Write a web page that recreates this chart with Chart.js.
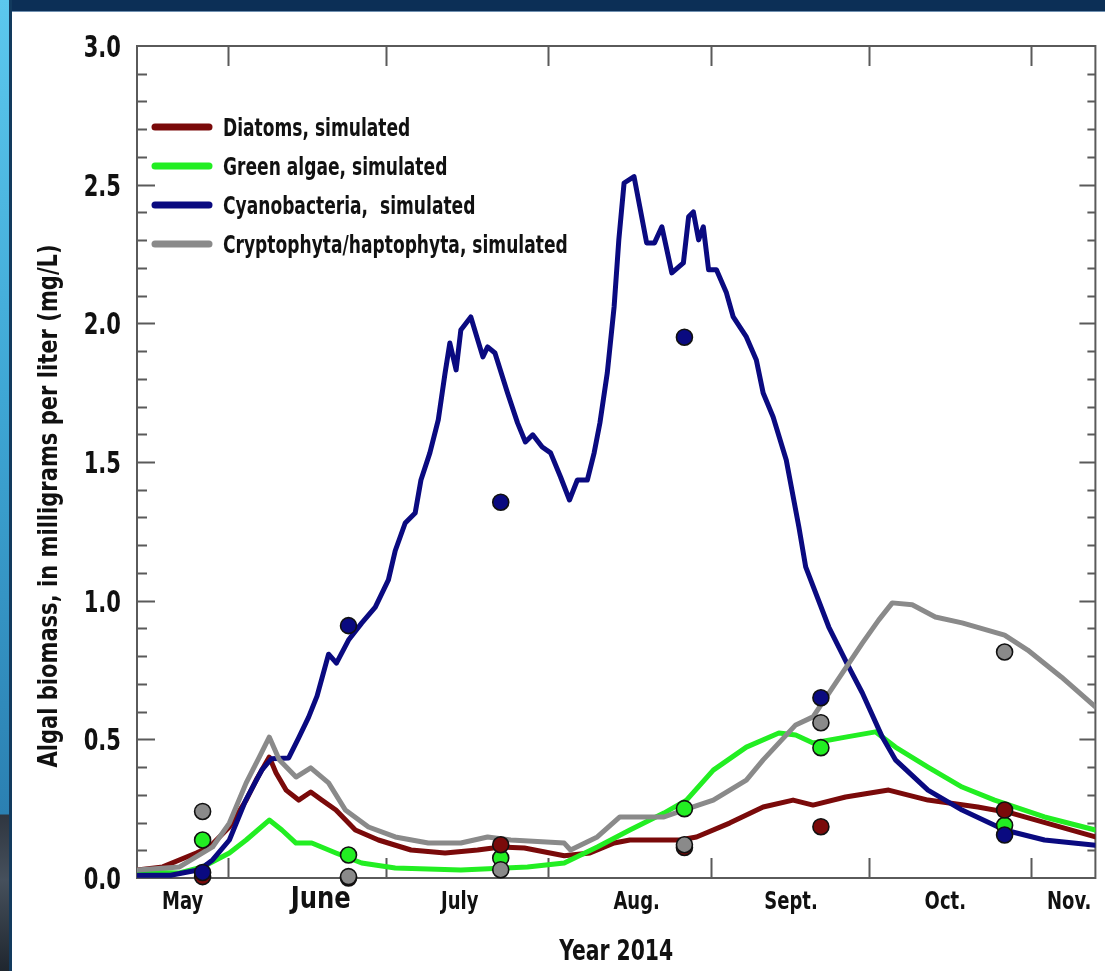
<!DOCTYPE html>
<html><head><meta charset="utf-8">
<script src="https://cdn.jsdelivr.net/npm/chart.js@4.4.1/dist/chart.umd.min.js"></script>
<style>
html,body{margin:0;padding:0;background:#fff;}
#wrap{position:relative;width:1105px;height:971px;overflow:hidden;background:#fff;}
#topbar{position:absolute;left:0;top:0;width:1105px;height:11px;background:#0c2f56;border-bottom:1px solid #7090b0;z-index:2}
#leftbar{position:absolute;left:0;top:0;width:9px;height:971px;background:linear-gradient(to bottom,#5cc8ee 0px,#3ea6d4 400px,#2b80b2 814px,#2f3640 815px,#46505c 880px,#1f262e 971px);border-right:3px solid #123a5e;z-index:2}
canvas{position:absolute;left:0;top:0}
</style></head>
<body><div id="wrap"><div id="topbar"></div><div id="leftbar"></div><canvas id="c" width="1105" height="971"></canvas></div>
<script>
// x values are day-of-year 2014 (June 1 = 152)
const xMin = 134.6, xMax = 317.2;
const monthBoundaries = [152, 182, 213, 244, 274, 305];
const monthLabels = ['May', 'June', 'July', 'Aug.', 'Sept.', 'Oct.', 'Nov.'];
const monthLabelDays = [143.3, 169.6, 196.1, 229.8, 259.2, 288.6, 312.2];
const yTicks = [0, 0.5, 1.0, 1.5, 2.0, 2.5, 3.0];
const xTitle = 'Year 2014';
const yTitle = 'Algal biomass, in milligrams per liter (mg/L)';

const seriesLabels = ['Diatoms, simulated', 'Green algae, simulated', 'Cyanobacteria,  simulated', 'Cryptophyta/haptophyta, simulated'];
const seriesColors = ['#7a0a0a', '#22ee22', '#0a0a80', '#8a8a8a'];

const diatomDays = [134.6,139.5,145.9,148.4,152.2,155.4,157.3,159.8,161.1,163.0,165.4,167.7,169.8,172.5,176.2,180.6,186.8,193.3,199.5,203.9,208.4,216.0,220.9,225.5,228.5,238.0,241.2,247.5,253.9,259.6,263.4,269.6,277.8,285.3,294.8,301.2,317.2];
const diatomVals = [0.029,0.040,0.090,0.112,0.184,0.281,0.353,0.436,0.379,0.317,0.281,0.310,0.281,0.245,0.173,0.137,0.101,0.090,0.101,0.112,0.108,0.080,0.090,0.126,0.137,0.137,0.148,0.198,0.256,0.281,0.263,0.292,0.317,0.281,0.256,0.234,0.148];

const greenDays = [134.6,142.7,147.1,152.2,155.4,159.8,162.2,164.9,167.9,172.5,177.4,183.8,196.3,209.0,216.0,222.3,228.5,235.0,239.3,244.4,250.7,256.9,260.1,263.4,269.6,275.3,279.1,285.3,291.8,298.0,307.5,317.2];
const greenVals = [0.022,0.018,0.040,0.090,0.137,0.209,0.173,0.126,0.126,0.090,0.054,0.036,0.029,0.040,0.054,0.112,0.173,0.234,0.281,0.389,0.472,0.523,0.516,0.487,0.508,0.527,0.472,0.400,0.328,0.281,0.220,0.173];

const cyanoDays = [134.6,141.0,146.5,149.0,152.2,155.3,158.4,160.2,163.5,165.4,167.3,168.9,171.1,172.6,174.9,177.4,180.0,182.5,183.8,185.7,187.6,188.7,190.4,192.0,193.3,194.2,195.4,196.3,198.2,200.5,201.4,202.8,205.2,207.1,208.6,210.0,211.8,213.4,215.3,217.0,218.5,220.4,221.7,222.8,224.2,225.5,226.4,227.4,229.3,230.4,231.7,233.2,234.6,236.5,238.7,239.7,240.6,241.6,242.5,243.5,245.0,246.9,248.2,250.7,252.6,253.9,255.8,258.3,260.7,262.0,266.4,270.2,272.8,276.6,279.1,285.3,291.8,299.9,307.5,317.2];
const cyanoVals = [0.010,0.010,0.030,0.065,0.137,0.280,0.390,0.430,0.433,0.505,0.580,0.656,0.807,0.775,0.858,0.919,0.977,1.075,1.180,1.280,1.316,1.435,1.533,1.652,1.821,1.929,1.832,1.976,2.023,1.879,1.915,1.893,1.749,1.641,1.572,1.598,1.554,1.533,1.446,1.363,1.435,1.435,1.533,1.641,1.821,2.059,2.301,2.506,2.529,2.420,2.290,2.290,2.348,2.182,2.218,2.384,2.402,2.301,2.348,2.193,2.193,2.110,2.023,1.951,1.868,1.749,1.662,1.507,1.266,1.122,0.905,0.761,0.667,0.508,0.426,0.317,0.245,0.173,0.137,0.118];

const cryptoDays = [134.6,142.7,149.0,152.2,155.4,157.9,159.8,161.7,164.9,167.7,171.1,174.3,178.7,183.8,190.1,196.3,201.4,205.8,216.0,217.2,222.3,226.6,235.0,238.7,244.4,250.7,253.9,260.1,263.4,267.7,272.8,275.9,278.5,282.3,286.7,291.8,299.9,304.3,310.7,317.2];
const cryptoVals = [0.029,0.040,0.112,0.198,0.343,0.436,0.508,0.426,0.364,0.397,0.343,0.245,0.184,0.148,0.126,0.126,0.148,0.137,0.126,0.101,0.148,0.220,0.220,0.245,0.281,0.353,0.426,0.552,0.581,0.703,0.847,0.930,0.992,0.985,0.941,0.920,0.876,0.822,0.725,0.617];

// measured samples
const obsDays = [147.1, 174.9, 203.9, 238.9, 264.9, 299.9];
const obsDiatoms = [0.005, 0.0, 0.12, 0.11, 0.185, 0.245];
const obsGreen = [0.137, 0.083, 0.072, 0.25, 0.47, 0.19];
const obsCyano = [0.02, 0.91, 1.355, 1.95, 0.65, 0.155];
const obsCrypto = [0.24, 0.005, 0.03, 0.12, 0.56, 0.815];

const FONT = "'Liberation Sans Narrow','DejaVu Sans Condensed','Arial Narrow',sans-serif";
const INK = '#111';

const pts = (xs, ys) => xs.map((x, i) => ({x: x, y: ys[i]}));
const lineDs = (i, xs, ys, order) => ({
  type: 'line', label: seriesLabels[i], data: pts(xs, ys), borderColor: seriesColors[i],
  backgroundColor: seriesColors[i], borderWidth: 5, pointRadius: 0, tension: 0,
  fill: false, order: order, isLegend: true, borderCapStyle: 'round', borderJoinStyle: 'round'
});
const dotDs = (i, ys, order) => ({
  type: 'scatter', label: seriesLabels[i] + ' (measured)', data: pts(obsDays, ys),
  backgroundColor: seriesColors[i], borderColor: '#111', borderWidth: 1.6,
  pointRadius: 8, showLine: false, order: order, clip: false
});

const datasets = [
  lineDs(0, diatomDays, diatomVals, 4),
  lineDs(1, greenDays, greenVals, 3),
  lineDs(2, cyanoDays, cyanoVals, 2),
  lineDs(3, cryptoDays, cryptoVals, 1),
  dotDs(1, obsGreen, -1),
  dotDs(0, obsDiatoms, -2),
  dotDs(3, obsCrypto, -3),
  dotDs(2, obsCyano, -4)
];

// draw text horizontally condensed (the original uses a condensed typeface)
function condText(ctx, text, x, y, size, sx, align, rot) {
  ctx.save();
  ctx.translate(x, y);
  if (rot) ctx.rotate(rot);
  ctx.scale(sx, 1);
  ctx.font = 'bold ' + size + 'px ' + FONT;
  ctx.fillStyle = INK;
  ctx.textAlign = align;
  ctx.textBaseline = 'alphabetic';
  ctx.fillText(text, 0, 0);
  ctx.restore();
}

const framePlugin = {
  id: 'frame',
  beforeDatasetsDraw(chart) {
    const {ctx, chartArea: a, scales: {x, y}} = chart;
    ctx.save();
    ctx.strokeStyle = '#5a5a5a';
    ctx.lineWidth = 2;
    ctx.strokeRect(a.left, a.top, a.right - a.left, a.bottom - a.top);
    ctx.beginPath();
    monthBoundaries.forEach(d => {
      const px = Math.round(x.getPixelForValue(d)) + 0.5;
      ctx.moveTo(px, a.bottom); ctx.lineTo(px, a.bottom - 20);
      ctx.moveTo(px, a.top); ctx.lineTo(px, a.top + 20);
    });
    for (let k = 1; k < 30; k++) {
      const v = k / 10;
      const major = k % 5 === 0;
      const py = Math.round(y.getPixelForValue(v)) + 0.5;
      ctx.moveTo(a.left, py); ctx.lineTo(a.left + (major ? 18 : 10), py);
      ctx.moveTo(a.right, py); ctx.lineTo(a.right - (major ? 16 : 8), py);
    }
    ctx.stroke();
    ctx.restore();
  }
};

const textPlugin = {
  id: 'texts',
  afterDraw(chart) {
    const {ctx, chartArea: a, scales: {x, y}} = chart;
    // y tick labels
    yTicks.forEach(v => {
      condText(ctx, v.toFixed(1), a.left - 16, y.getPixelForValue(v) + 11, 30, 0.78, 'right');
    });
    // month labels
    monthLabels.forEach((m, i) => {
      const big = i === 1;
      condText(ctx, m, x.getPixelForValue(monthLabelDays[i]), a.bottom + (big ? 30 : 31), big ? 30 : 25, big ? 0.9 : 0.8, 'center');
    });
    // axis titles
    condText(ctx, xTitle, (a.left + a.right) / 2, 960, 29, 0.78, 'center');
    condText(ctx, yTitle, 57, 506, 26, 0.9, 'center', -Math.PI / 2);
    // legend
    const items = chart.data.datasets.filter(d => d.isLegend);
    items.forEach((d, i) => {
      const yy = 127 + i * 39;
      ctx.save();
      ctx.strokeStyle = d.borderColor;
      ctx.lineWidth = 7;
      ctx.lineCap = 'round';
      ctx.beginPath(); ctx.moveTo(155, yy); ctx.lineTo(209, yy); ctx.stroke();
      ctx.restore();
      condText(ctx, d.label, 223, yy + 9, 25, 0.76, 'left');
    });
  }
};

new Chart(document.getElementById('c').getContext('2d'), {
  type: 'line',
  data: {datasets: datasets},
  options: {
    responsive: false, animation: false, devicePixelRatio: 1,
    layout: {padding: {top: 46, right: 4, left: 0, bottom: 0}},
    plugins: {legend: {display: false}, tooltip: {enabled: false}},
    scales: {
      x: {
        type: 'linear', min: xMin, max: xMax,
        grid: {display: false, drawTicks: false}, border: {display: false},
        afterBuildTicks: s => { s.ticks = monthLabelDays.map(v => ({value: v})); },
        afterFit: s => { s.height = 93; },
        ticks: {display: false}
      },
      y: {
        type: 'linear', min: 0, max: 3,
        grid: {display: false, drawTicks: false}, border: {display: false},
        afterBuildTicks: s => { s.ticks = yTicks.map(v => ({value: v})); },
        afterFit: s => { s.width = 137; },
        ticks: {display: false}
      }
    }
  },
  plugins: [framePlugin, textPlugin]
});
</script></body></html>
